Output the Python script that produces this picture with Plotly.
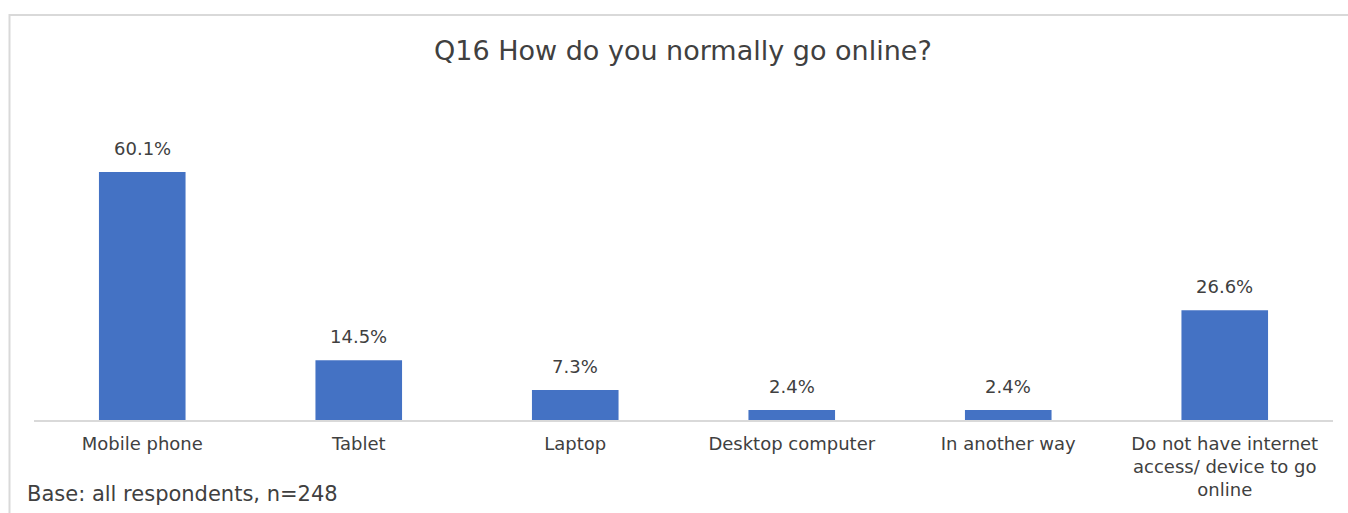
import plotly.graph_objects as go

# Survey responses: share of respondents by way of going online
categories = [
    "Mobile phone",
    "Tablet",
    "Laptop",
    "Desktop computer",
    "In another way",
    "Do not have internet<br>access/ device to go<br>online",
]
percentages = [60.1, 14.5, 7.3, 2.4, 2.4, 26.6]

title_text = "Q16 How do you normally go online?"
base_note = "Base: all respondents, n=248"

BAR_COLOR = "#4472C4"
TEXT_COLOR = "#404040"
FONT = "DejaVu Sans"

W, H = 1348, 513
ML, MR, MT, MB = 34, 15, 100, 93
plot_w = W - ML - MR
plot_h = H - MT - MB


def px_to_paper_x(px):
    return (px - ML) / plot_w


def px_to_paper_y(py):
    return (H - MB - py) / plot_h


fig = go.Figure(
    go.Bar(
        x=categories,
        y=percentages,
        marker=dict(color=BAR_COLOR, line=dict(width=0)),
        hoverinfo="skip",
    )
)

# Value labels above each bar
for cat, val in zip(categories, percentages):
    fig.add_annotation(
        x=cat, y=val, text=f"{val:.1f}%", showarrow=False,
        yanchor="bottom", yshift=11,
        font=dict(family=FONT, size=18, color=TEXT_COLOR),
    )

# Chart title
fig.add_annotation(
    xref="paper", yref="paper",
    x=px_to_paper_x(683), y=px_to_paper_y(50),
    text=title_text, showarrow=False, xanchor="center", yanchor="middle",
    font=dict(family=FONT, size=27, color=TEXT_COLOR),
)

# Base note
fig.add_annotation(
    xref="paper", yref="paper",
    x=px_to_paper_x(25), y=px_to_paper_y(494),
    text=base_note, showarrow=False, xanchor="left", yanchor="middle",
    font=dict(family=FONT, size=21, color=TEXT_COLOR),
)

# Light frame around the chart area
fig.add_shape(
    type="rect", xref="paper", yref="paper",
    x0=px_to_paper_x(9.5), x1=px_to_paper_x(1360),
    y0=px_to_paper_y(530), y1=px_to_paper_y(15),
    line=dict(color="#D9D9D9", width=2), fillcolor="rgba(0,0,0,0)",
)

fig.update_layout(
    width=W, height=H,
    margin=dict(l=ML, r=MR, t=MT, b=MB),
    paper_bgcolor="white", plot_bgcolor="white",
    bargap=0.6, showlegend=False,
    font=dict(family=FONT, color=TEXT_COLOR),
    xaxis=dict(
        showline=True, linecolor="#D9D9D9", linewidth=2,
        ticks="", showgrid=False, zeroline=False,
        tickfont=dict(family=FONT, size=18, color=TEXT_COLOR),
        ticklabelstandoff=6,
        fixedrange=True,
    ),
    yaxis=dict(
        range=[0, plot_h / (248 / 60.1)], visible=False,
        showgrid=False, zeroline=False, fixedrange=True,
    ),
)

fig.write_html("out.html", config={"displayModeBar": False})
